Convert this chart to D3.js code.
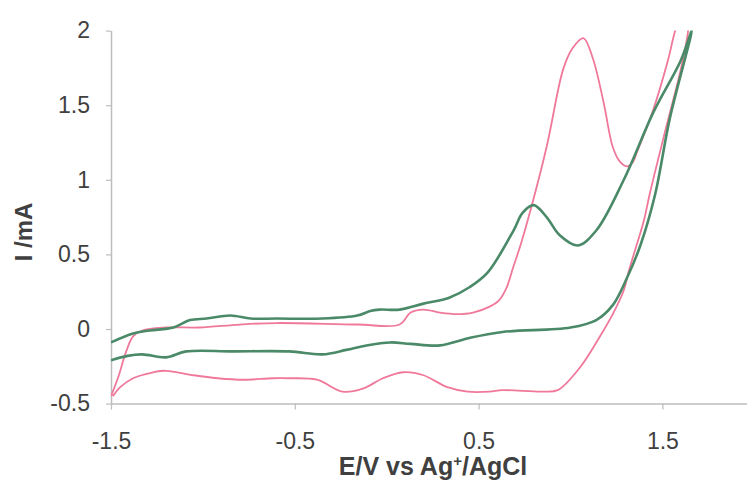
<!DOCTYPE html>
<html>
<head>
<meta charset="utf-8">
<script src="https://cdn.jsdelivr.net/npm/d3@7"></script>
<style>
  html, body { margin: 0; padding: 0; background: #fff; }
  svg { display: block; }
</style>
</head>
<body>
<svg id="chart" width="747" height="481"></svg>
<script>
// ---- data ----
const xTicks = [-1.5, -0.5, 0.5, 1.5];
const yTicks = [-0.5, 0, 0.5, 1, 1.5, 2];
const xTitle = "E/V vs Ag";
const yTitle = "I /mA";

// green CV loop: forward (upper) then return (lower)
const greenE = [-1.50,-1.38,-1.29,-1.16,-1.07,-0.98,-0.85,-0.74,-0.60,-0.35,
                -0.16,-0.09,-0.04,0.07,0.20,0.34,0.45,0.55,0.69,0.74,0.80,
                0.87,0.94,1.04,1.14,1.29,1.45,1.60,1.66,
                1.54,1.46,1.38,1.31,1.23,1.14,1.00,0.63,0.45,0.29,
                0.13,0.02,-0.11,-0.22,-0.35,-0.53,-0.84,-1.09,-1.20,-1.33,
                -1.41,-1.50];
const greenI = [-0.09,-0.03,-0.01,0.01,0.06,0.07,0.09,0.07,0.07,0.07,
                0.09,0.12,0.13,0.13,0.17,0.21,0.28,0.38,0.66,0.78,0.83,
                0.75,0.63,0.56,0.66,1.00,1.45,1.80,2.00,
                1.41,0.90,0.56,0.35,0.16,0.06,0.01,-0.02,-0.06,-0.11,
                -0.10,-0.09,-0.11,-0.14,-0.17,-0.15,-0.15,-0.15,-0.19,-0.17,
                -0.18,-0.21];

// pink CV loop: forward (upper) then return (lower)
const pinkE = [-1.50,-1.46,-1.42,-1.38,-1.33,-1.20,-1.02,-0.80,-0.60,-0.16,
               0.07,0.13,0.20,0.29,0.38,0.47,0.56,0.61,0.65,0.69,0.73,0.77,
               0.87,0.96,1.01,1.07,1.12,1.18,1.23,1.27,1.31,1.34,1.36,1.45,
               1.53,1.57,1.65,
               1.64,1.60,1.52,1.43,1.40,1.32,1.29,1.23,1.16,1.05,
               0.93,0.85,0.63,0.56,0.44,0.33,0.20,0.09,-0.02,-0.13,
               -0.24,-0.38,-0.53,-0.62,-0.78,-0.92,-1.05,-1.20,-1.27,-1.38,
               -1.45,-1.49];
const pinkI = [-0.45,-0.32,-0.16,-0.05,-0.01,0.01,0.01,0.03,0.04,0.03,
               0.03,0.11,0.13,0.11,0.10,0.11,0.15,0.19,0.27,0.42,0.57,0.74,
               1.22,1.74,1.88,1.95,1.82,1.52,1.22,1.12,1.09,1.12,1.18,1.47,
               1.80,2.00,2.27,
               2.00,1.74,1.35,0.90,0.73,0.40,0.26,0.10,-0.05,-0.26,
               -0.41,-0.42,-0.41,-0.42,-0.42,-0.39,-0.31,-0.29,-0.33,-0.40,
               -0.42,-0.34,-0.33,-0.33,-0.34,-0.33,-0.31,-0.28,-0.29,-0.33,
               -0.39,-0.45];

// ---- layout ----
const svg = d3.select("#chart");
const x = d3.scaleLinear().domain([-1.5, 2]).range([111, 754.3]);
const y = d3.scaleLinear().domain([-0.5, 2]).range([403.6, 30.6]);

const axisColor = "#bdbdbd";
const textColor = "#404040";
const fontFam = "'Liberation Sans', Arial, sans-serif";

svg.append("defs").append("clipPath").attr("id", "plotClip")
  .append("rect").attr("x", 111).attr("y", 30.6)
  .attr("width", 650).attr("height", 373);

// axes
const gx = svg.append("g").attr("transform", `translate(0,${y(-0.5)})`)
  .call(d3.axisBottom(x).tickValues(xTicks).tickSize(6).tickSizeOuter(0)
        .tickPadding(23).tickFormat(d => String(d)));
const gy = svg.append("g").attr("transform", `translate(${x(-1.5)},0)`)
  .call(d3.axisLeft(y).tickValues(yTicks).tickSize(5).tickSizeOuter(0)
        .tickPadding(16).tickFormat(d => String(d)));

[gx, gy].forEach(g => {
  g.select(".domain").attr("stroke", axisColor).attr("stroke-width", 1.5);
  g.selectAll(".tick line").attr("stroke", axisColor).attr("stroke-width", 1.2);
  g.selectAll(".tick text").attr("fill", textColor)
    .style("font-family", fontFam).style("font-size", "23px");
});

// curves
const toPts = (E, I) => E.map((e, i) => [e, I[i]]);
const line = d3.line().x(d => x(d[0])).y(d => y(d[1]))
  .curve(d3.curveCatmullRom.alpha(0.5));

const plot = svg.append("g").attr("clip-path", "url(#plotClip)");
plot.append("path").datum(toPts(pinkE, pinkI))
  .attr("d", line).attr("fill", "none")
  .attr("stroke", "#f0789a").attr("stroke-width", 1.8)
  .attr("stroke-linejoin", "round");
plot.append("path").datum(toPts(greenE, greenI))
  .attr("d", line).attr("fill", "none")
  .attr("stroke", "#4a8a68").attr("stroke-width", 2.6)
  .attr("stroke-linejoin", "round");

// titles
const xt = svg.append("text").attr("x", 433).attr("y", 475)
  .attr("text-anchor", "middle").attr("fill", textColor)
  .style("font-family", fontFam).style("font-size", "25px").style("font-weight", "bold");
xt.append("tspan").text(xTitle);
xt.append("tspan").attr("dy", -9).style("font-size", "15px").text("+");
xt.append("tspan").attr("dy", 9).text("/AgCl");

svg.append("text").attr("transform", "translate(32,232) rotate(-90)")
  .attr("text-anchor", "middle").attr("fill", textColor)
  .style("font-family", fontFam).style("font-size", "24px").style("font-weight", "bold")
  .text(yTitle);
</script>
</body>
</html>
